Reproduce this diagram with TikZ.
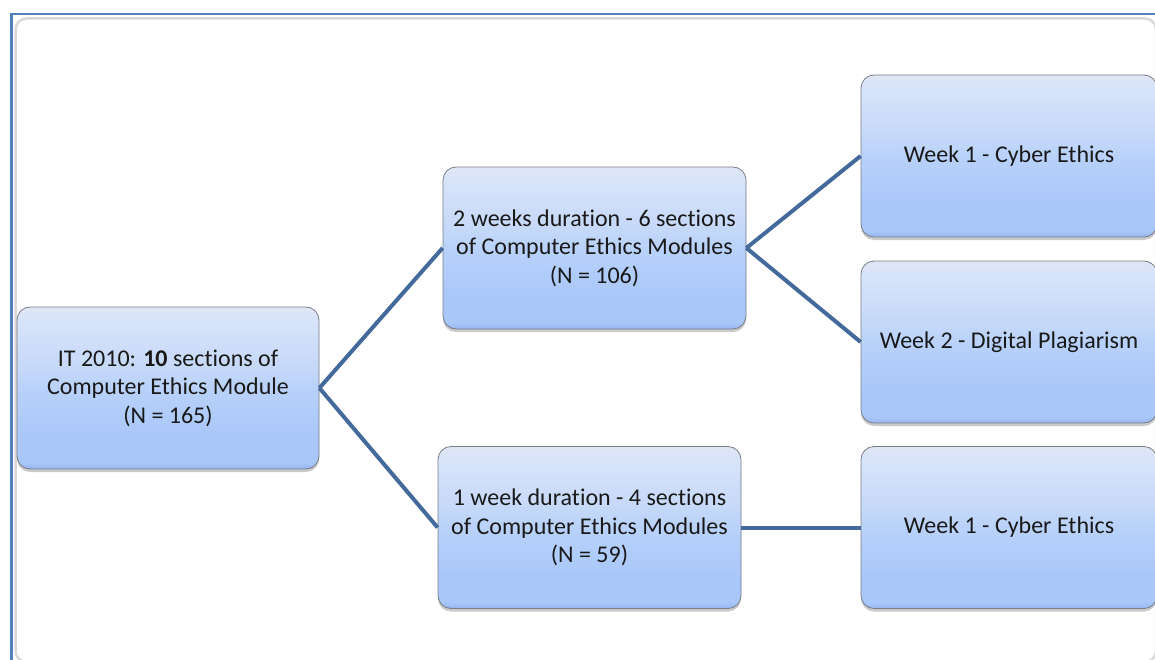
\documentclass[tikz,border=0pt]{standalone}
\usepackage{fontspec}
\setmainfont{Carlito}[Ligatures=NoCommon]
\usetikzlibrary{shadows}
\definecolor{frameblue}{RGB}{79,129,189}
\definecolor{framegray}{RGB}{217,217,217}
\definecolor{linkblue}{RGB}{68,106,155}
\definecolor{boxedge}{RGB}{120,125,135}
\definecolor{sA}{RGB}{223,230,245}
\definecolor{sB}{RGB}{214,227,250}
\definecolor{sC}{RGB}{200,218,248}
\definecolor{sD}{RGB}{182,208,250}
\definecolor{sE}{RGB}{169,199,249}
\definecolor{sF}{RGB}{150,181,238}
\pgfdeclareverticalshading{boxshade}{100bp}{color(0bp)=(sF); color(25bp)=(sF); color(27bp)=(sE); color(35bp)=(sE); color(48bp)=(sD); color(58bp)=(sC); color(70bp)=(sB); color(75bp)=(sA); color(100bp)=(sA)}
\tikzset{
  box/.style={draw=boxedge, line width=0.8pt, rounded corners=13pt, shading=boxshade,
    minimum width=302pt, minimum height=162pt, align=center, inner sep=0pt,
    font=\fontsize{24}{28.5}\selectfont, text=black!90,
    drop shadow={shadow xshift=0pt, shadow yshift=-3pt, opacity=0.35, fill=black!60}},
  link/.style={draw=linkblue, line width=4pt}
}
\begin{document}
\begin{tikzpicture}[x=1pt,y=-1pt]
\useasboundingbox (0,0) rectangle (1155,660);
\clip (0,0) rectangle (1155,660);
% frame
\draw[framegray, line width=2.5pt, rounded corners=11pt] (15.5,18.5) rectangle (1156,662);
\draw[frameblue, line width=2.2pt] (11.5,662) -- (11.5,14) -- (1160,14);
% nodes
\node[box] (root) at (168,388) {IT 2010: \textbf{10} sections of\\Computer Ethics Module\\(N = 165)};
\node[box, minimum width=303pt] (two) at (594.5,248) {2 weeks duration - 6 sections\\of Computer Ethics Modules\\(N = 106)};
\node[box, minimum width=303pt] (one) at (589.5,527.5) {1 week duration - 4 sections\\of Computer Ethics Modules\\(N = 59)};
\node[box, minimum width=296pt] (w1a) at (1009,156) {Week 1 - Cyber Ethics};
\node[box, minimum width=296pt] (w2) at (1009,342) {Week 2 - Digital Plagiarism};
\node[box, minimum width=296pt] (w1b) at (1009,527.5) {Week 1 - Cyber Ethics};
% connectors
\draw[link] (root.east) -- (two.west);
\draw[link] (root.east) -- (one.west);
\draw[link] (two.east) -- (w1a.west);
\draw[link] (two.east) -- (w2.west);
\draw[link] (one.east) -- (w1b.west);
\end{tikzpicture}
\end{document}
